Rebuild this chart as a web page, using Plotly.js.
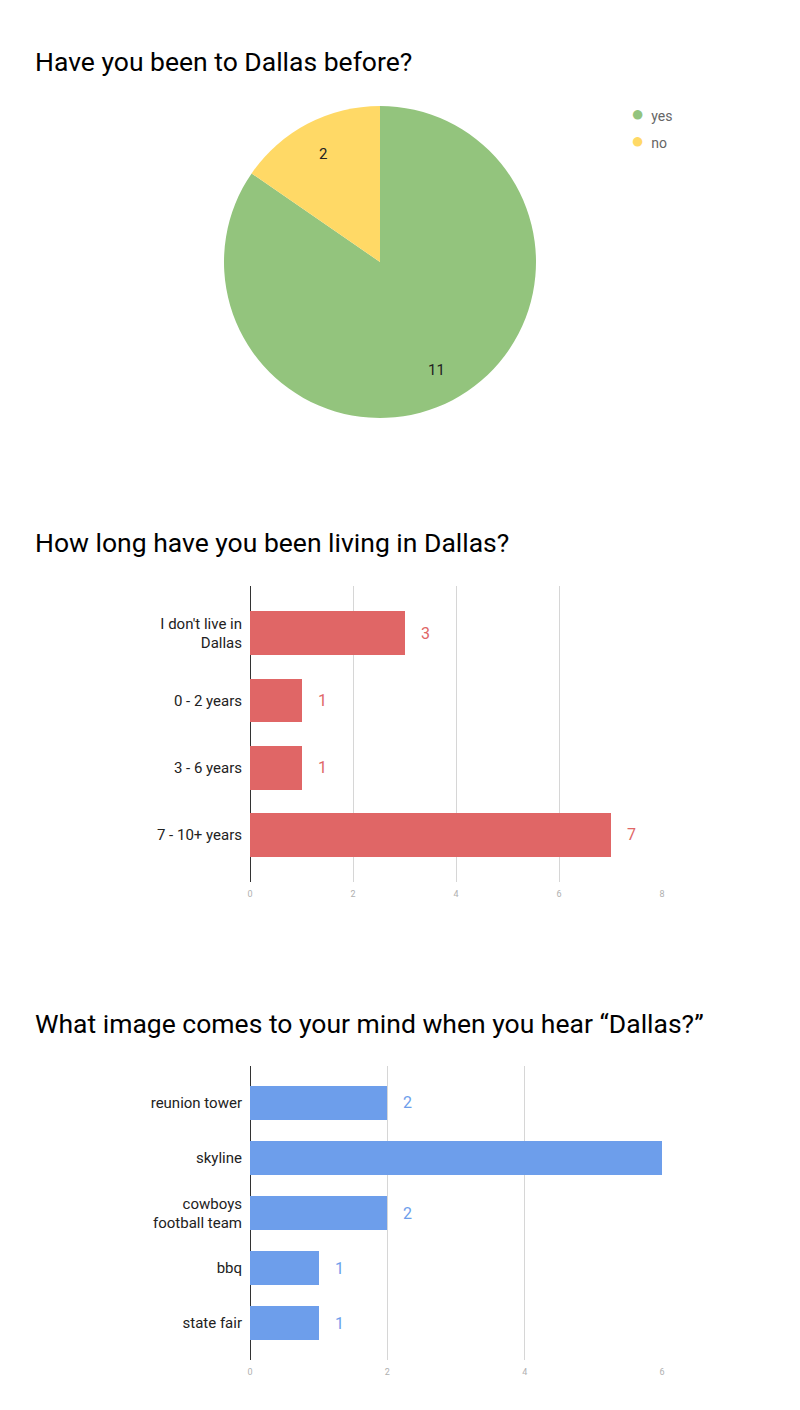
<!DOCTYPE html>
<html>
<head>
<meta charset="utf-8">
<script src="https://cdn.plot.ly/plotly-3.0.1.min.js"></script>
<style>html,body{margin:0;padding:0;background:#fff;}#chart{width:800px;height:1410px;}</style>
</head>
<body>
<div id="chart"></div>
<script>
// Chart 1: pie
const pieLabels = ['yes', 'no'];
const pieValues = [11, 2];
const pieColors = ['#93c47d', '#ffd966'];

// Chart 2: how long living in Dallas
const livingCats = ["I don't live in<br>Dallas", '0 - 2 years', '3 - 6 years', '7 - 10+ years'];
const livingValues = [3, 1, 1, 7];
const livingTicks = [0, 2, 4, 6, 8];

// Chart 3: image of Dallas
const imageCats = ['reunion tower', 'skyline', 'cowboys<br>football team', 'bbq', 'state fair'];
const imageValues = [2, 6, 2, 1, 1];
const imageTicks = [0, 2, 4, 6];

const titles = ['Have you been to Dallas before?', 'How long have you been living in Dallas?', 'What image comes to your mind when you hear \u201cDallas?\u201d'];

const H = 1410, W = 800;
const py = px => 1 - px / H;
const FONT = 'Roboto, "Open Sans", sans-serif';

const red = '#e06666', blue = '#6d9eeb';

// pie geometry (pixels)
const pieCx = 380, pieCy = 262, pieR = 156;

const traces = [
  {
    type: 'pie', labels: pieLabels, values: pieValues,
    marker: {colors: pieColors, line: {width: 0}},
    sort: false, direction: 'clockwise', rotation: 0,
    textinfo: 'none',
    domain: {x: [(pieCx - pieR)/W, (pieCx + pieR)/W], y: [py(pieCy + pieR), py(pieCy - pieR)]},
    showlegend: false, hoverinfo: 'label+value'
  },
  {
    type: 'bar', orientation: 'h', x: livingValues, y: livingCats,
    marker: {color: red}, width: 0.65, xaxis: 'x', yaxis: 'y', showlegend: false
  },
  {
    type: 'bar', orientation: 'h', x: imageValues, y: imageCats,
    marker: {color: blue}, width: 0.625, xaxis: 'x2', yaxis: 'y2', showlegend: false
  }
];

const annotations = [];
[62, 543, 1023].forEach((y, i) => {
  annotations.push({xref: 'paper', yref: 'paper', x: 33/W, y: py(y), xanchor: 'left', yanchor: 'middle',
    text: titles[i], showarrow: false, font: {family: FONT, size: 26.5, color: '#000'}});
});
// legend
pieLabels.forEach((l, i) => {
  annotations.push({xref: 'paper', yref: 'paper', x: 629/W, y: py(113 + i*27), xanchor: 'left', yanchor: 'middle',
    text: '<span style="color:' + pieColors[i] + ';font-size:22px">\u25CF</span>&nbsp;&nbsp;' + l,
    showarrow: false, font: {family: FONT, size: 14, color: '#666'}});
});
// pie value labels at slice mid-angles
const pieTotal = pieValues.reduce((a, b) => a + b, 0);
let acc = 0;
pieValues.forEach((v) => {
  const mid = (acc + v / 2) / pieTotal * 2 * Math.PI;
  acc += v;
  const r = pieR * 0.78;
  const x = pieCx + r * Math.sin(mid), y = pieCy - r * Math.cos(mid);
  annotations.push({xref: 'paper', yref: 'paper', x: x / W, y: py(y), xanchor: 'center', yanchor: 'middle',
    text: String(v), showarrow: false, font: {family: FONT, size: 15, color: '#222'}});
});
const xmax1 = 8, xmax2 = 6;
livingValues.forEach((v, i) => {
  if (v < xmax1) annotations.push({xref: 'x', yref: 'y', x: v, y: livingCats[i], xanchor: 'left', yanchor: 'middle',
    xshift: 14, text: String(v), showarrow: false, font: {family: FONT, size: 16, color: red}});
});
imageValues.forEach((v, i) => {
  if (v < xmax2) annotations.push({xref: 'x2', yref: 'y2', x: v, y: imageCats[i], xanchor: 'left', yanchor: 'middle',
    xshift: 14, text: String(v), showarrow: false, font: {family: FONT, size: 16, color: blue}});
});

const xaxisBase = {
  showgrid: true, gridcolor: '#d6d6d6', gridwidth: 1,
  zeroline: true, zerolinecolor: '#333', zerolinewidth: 1,
  showline: false, ticks: 'outside', ticklen: 3, tickcolor: 'rgba(0,0,0,0)',
  tickfont: {family: FONT, size: 9, color: '#b0b0b0'},
  fixedrange: true
};
const yaxisBase = {
  type: 'category', autorange: false, showgrid: false, zeroline: false, showline: false,
  ticks: 'outside', ticklen: 4, tickcolor: 'rgba(0,0,0,0)',
  tickfont: {family: FONT, size: 15, color: '#222'}, fixedrange: true
};

const layout = {
  width: W, height: H,
  margin: {l: 0, r: 0, t: 0, b: 0},
  paper_bgcolor: '#fff', plot_bgcolor: '#fff',
  font: {family: FONT},
  showlegend: false,
  bargap: 0,
  xaxis: Object.assign({}, xaxisBase, {domain: [250/W, 662/W], range: [0, xmax1], tickvals: livingTicks, anchor: 'y'}),
  yaxis: Object.assign({}, yaxisBase, {domain: [py(882), py(586)], range: [livingCats.length - 0.3, -0.7], anchor: 'x'}),
  xaxis2: Object.assign({}, xaxisBase, {domain: [250/W, 662/W], range: [0, xmax2], tickvals: imageTicks, anchor: 'y2'}),
  yaxis2: Object.assign({}, yaxisBase, {domain: [py(1360), py(1066)], range: [imageCats.length - 0.33, -0.67], anchor: 'x2'}),
  annotations: annotations
};

Plotly.newPlot('chart', traces, layout, {displayModeBar: false, staticPlot: true});
</script>
</body>
</html>
